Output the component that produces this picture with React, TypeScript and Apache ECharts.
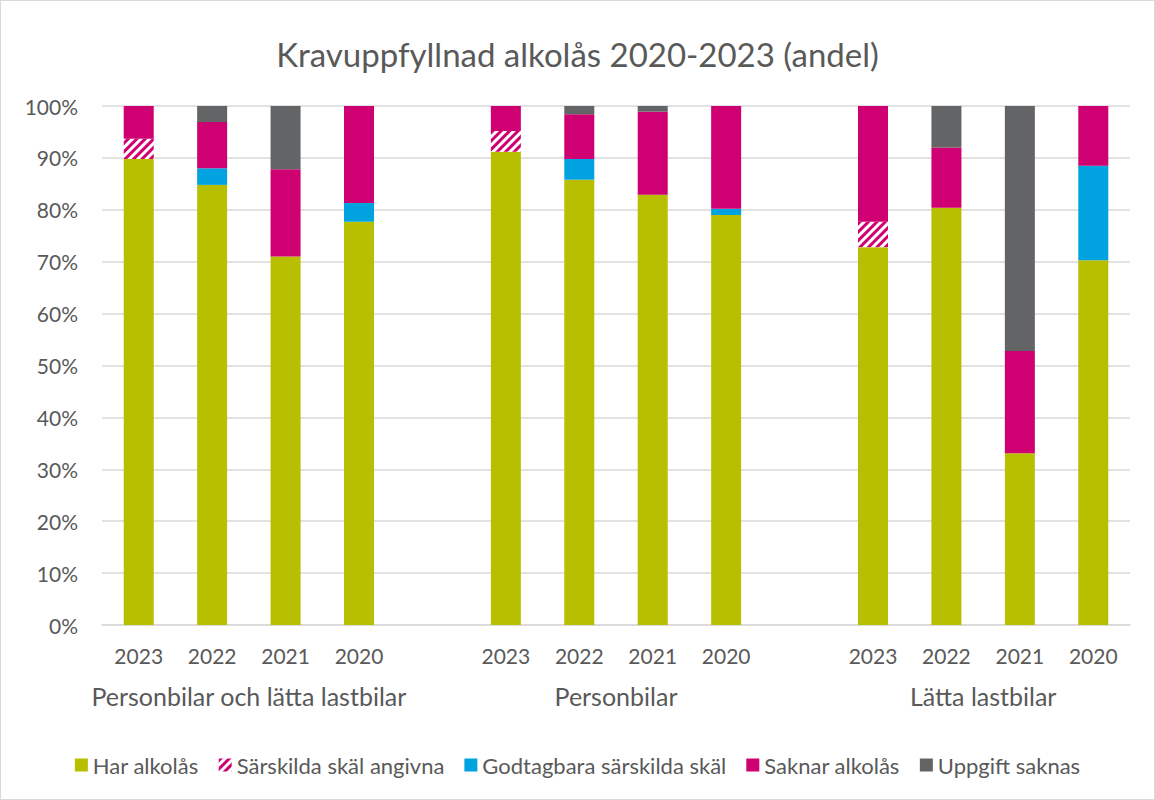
import React, { useEffect, useRef } from "react";
import * as echarts from "echarts";

const years = ["2023", "2022", "2021", "2020", "", "2023", "2022", "2021", "2020", "", "2023", "2022", "2021", "2020"];
const groupLabels = ["", "", "Personbilar och lätta lastbilar", "", "", "", "", "Personbilar", "", "", "", "", "Lätta lastbilar", "", ""];
const yTicks = [0, 10, 20, 30, 40, 50, 60, 70, 80, 90, 100];

const harAlkolas = [89.8, 84.8, 71.0, 77.7, null, 91.2, 85.8, 82.9, 79.0, null, 72.8, 80.4, 33.1, 70.3];
const sarskildaSkal = [3.9, 0, 0, 0, null, 4.0, 0, 0, 0, null, 4.9, 0, 0, 0];
const godtagbara = [0, 3.2, 0, 3.6, null, 0, 4.0, 0, 1.2, null, 0, 0, 0, 18.2];
const saknarAlkolas = [6.3, 8.9, 16.8, 18.7, null, 4.8, 8.6, 16.0, 19.8, null, 22.3, 11.6, 19.7, 11.5];
const uppgiftSaknas = [0, 3.1, 12.2, 0, null, 0, 1.6, 1.1, 0, null, 0, 8.0, 47.2, 0];

const GREEN = "#B8BF00";
const MAGENTA = "#CE0072";
const BLUE = "#00A3DF";
const GRAY = "#636466";
const TEXT = "#595959";
const FONT = "Lato, 'Open Sans', sans-serif";

export default function App() {
  const ref = useRef<HTMLDivElement>(null);
  useEffect(() => {
    if (!ref.current) return;
    const chart = echarts.init(ref.current, undefined, { renderer: "svg" });
    const mk = (name: string, data: (number | null)[], color: string, extra: any = {}) => ({
      name,
      type: "bar",
      stack: "total",
      barWidth: 30,
      data,
      xAxisIndex: 0,
      itemStyle: { color, ...extra },
      emphasis: { disabled: true },
    });
    chart.setOption({
      animation: false,
      textStyle: { fontFamily: FONT },
      title: {
        text: "Kravuppfyllnad alkolås 2020-2023 (andel)",
        left: "center",
        top: 31,
        textStyle: { color: TEXT, fontSize: 33, fontWeight: "normal", fontFamily: FONT },
      },
      grid: { left: 101, right: 24, top: 105, bottom: 174 },
      legend: {
        bottom: 18,
        left: "center",
        itemWidth: 13,
        itemHeight: 13,
        itemGap: 20,
        icon: "rect",
        textStyle: { color: TEXT, fontSize: 22, fontFamily: FONT },
        data: ["Har alkolås", "Särskilda skäl angivna", "Godtagbara särskilda skäl", "Saknar alkolås", "Uppgift saknas"],
      },
      xAxis: [
        {
          type: "category",
          data: years,
          axisLine: { lineStyle: { color: "#d9d9d9", width: 1.5 } },
          axisTick: { show: false },
          axisLabel: { color: TEXT, fontSize: 21, margin: 20, interval: 0, fontFamily: FONT },
        },
        {
          type: "category",
          position: "bottom",
          boundaryGap: false,
          data: groupLabels,
          axisLine: { show: false },
          axisTick: { show: false },
          axisLabel: { color: TEXT, fontSize: 25, margin: 58, interval: 0, fontFamily: FONT },
        },
      ],
      yAxis: {
        type: "value",
        min: yTicks[0],
        max: yTicks[yTicks.length - 1],
        interval: 10,
        axisLine: { show: false },
        axisTick: { show: false },
        splitLine: { lineStyle: { color: "#d9d9d9", width: 1.5 } },
        axisLabel: { color: TEXT, fontSize: 21, margin: 24, formatter: "{value}%", fontFamily: FONT },
      },
      series: [
        mk("Har alkolås", harAlkolas, GREEN),
        mk("Särskilda skäl angivna", sarskildaSkal, "#ffffff", {
          decal: {
            symbol: "rect",
            symbolSize: 1,
            color: MAGENTA,
            backgroundColor: "#ffffff",
            dashArrayX: [1, 0],
            dashArrayY: [3, 3],
            rotation: -Math.PI / 4,
          },
        }),
        mk("Godtagbara särskilda skäl", godtagbara, BLUE),
        mk("Saknar alkolås", saknarAlkolas, MAGENTA),
        mk("Uppgift saknas", uppgiftSaknas, GRAY),
      ],
    });
    return () => chart.dispose();
  }, []);
  return (
    <div
      ref={ref}
      style={{
        position: "fixed",
        left: 0,
        top: 0,
        width: 1155,
        height: 800,
        boxSizing: "border-box",
        border: "1px solid #d9d9d9",
        background: "#fff",
      }}
    />
  );
}
